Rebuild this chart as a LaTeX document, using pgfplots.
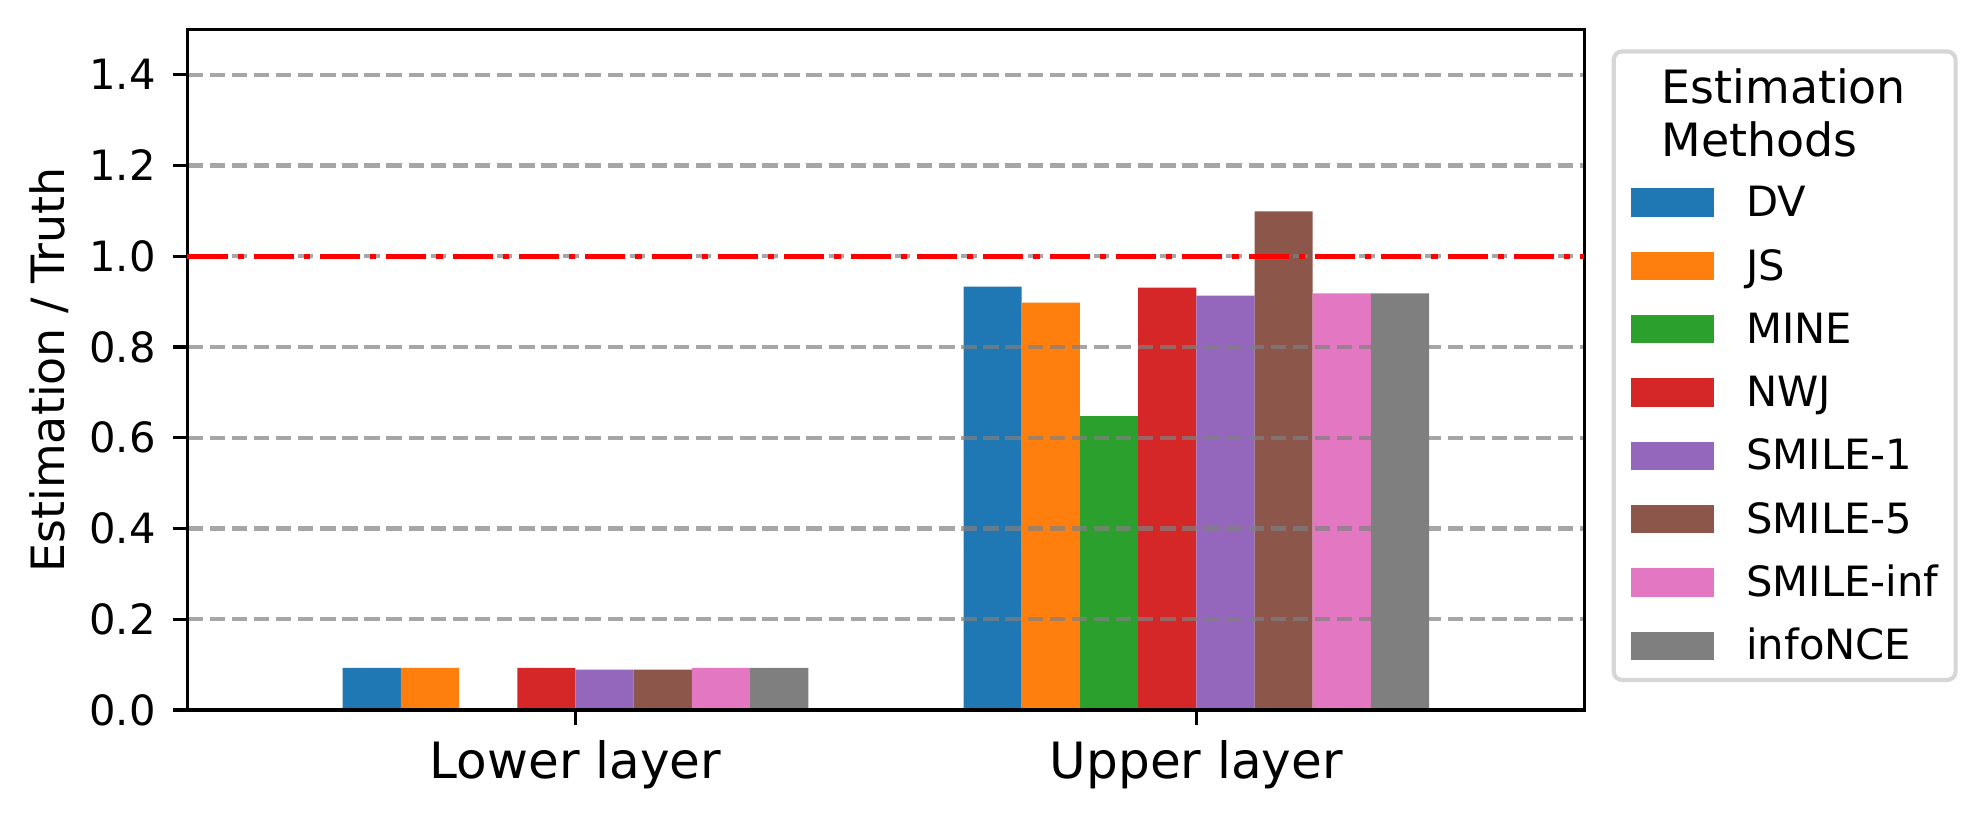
\documentclass[border=0pt]{standalone}
\usepackage{pgfplots}
\pgfplotsset{compat=1.18}
\usepackage{fontspec}
\setmainfont{DejaVu Sans}
\definecolor{c1}{HTML}{1F77B4}
\definecolor{c2}{HTML}{FF7F0E}
\definecolor{c3}{HTML}{2CA02C}
\definecolor{c4}{HTML}{D62728}
\definecolor{c5}{HTML}{9467BD}
\definecolor{c6}{HTML}{8C564B}
\definecolor{c7}{HTML}{E377C2}
\definecolor{c8}{HTML}{7F7F7F}
\newcommand\ls{\rule[-2.5pt]{0pt}{10.9pt}}
\begin{document}
\begin{tikzpicture}
\begin{axis}[
  at={(44.95pt,25.6pt)}, anchor=south west,
  scale only axis, width=334.9pt, height=163.2pt,
  xmin=-0.625, xmax=1.625, ymin=0, ymax=1.5,
  xtick={0,1}, xticklabels={Lower layer, Upper layer},
  ytick={0,0.2,0.4,0.6,0.8,1.0,1.2,1.4},
  /pgf/number format/assume math mode=true,
  /pgf/number format/fixed, /pgf/number format/fixed zerofill, /pgf/number format/precision=1,
  tick align=outside, major tick length=3.5pt,
  xtick pos=left, ytick pos=left,
  tick style={black, line width=0.8pt},
  axis line style={line width=0.8pt},
  x tick label style={font=\fontsize{12}{14}\selectfont, inner sep=0pt, anchor=base, yshift=-12.8pt},
  y tick label style={font=\fontsize{10}{12}\selectfont, inner sep=0pt, anchor=east, xshift=-3.9pt},
  ymajorgrids,
  grid style={gray, opacity=0.7, line width=1pt, dash pattern=on 3.7pt off 1.6pt},
  set layers, axis on top,
  ylabel={Estimation / Truth},
  ylabel style={at={(axis description cs:-0.08815,0.5)}, anchor=base, font=\fontsize{11}{13}\selectfont},
  legend image code/.code={\fill[#1, draw=none, sharp corners] (0pt,0pt) rectangle (19.9pt,6.8pt);},
  legend style={at={(1.01956,0.9706)}, anchor=north west, draw=black!16, line width=1pt,
    rounded corners=2pt, fill=white, inner xsep=4.1pt, inner ysep=3.9pt,
    row sep=4.28pt, column sep=7.8pt, font=\fontsize{10}{12}\selectfont,
    nodes={inner sep=0pt, text depth=}, cells={anchor=base west}},
]
\addlegendimage{empty legend}
\addlegendentry{\hspace*{-20.3pt}\fontsize{11}{12.4}\selectfont\vtop{\hbox{\rule{0pt}{8.68pt}Estimation}\nointerlineskip\hbox{\rule[-1.8pt]{0pt}{14.2pt}Methods}}}

% DV
\addplot[ybar, bar width=0.09375, bar shift=0pt, fill=c1, draw=none, forget plot]
  coordinates {(-0.328125,0.093) (0.671875,0.933)};
% JS
\addplot[ybar, bar width=0.09375, bar shift=0pt, fill=c2, draw=none, forget plot]
  coordinates {(-0.234375,0.093) (0.765625,0.898)};
% MINE
\addplot[ybar, bar width=0.09375, bar shift=0pt, fill=c3, draw=none, forget plot]
  coordinates {(0.859375,0.647)};
% NWJ
\addplot[ybar, bar width=0.09375, bar shift=0pt, fill=c4, draw=none, forget plot]
  coordinates {(-0.046875,0.093) (0.953125,0.931)};
% SMILE-1
\addplot[ybar, bar width=0.09375, bar shift=0pt, fill=c5, draw=none, forget plot]
  coordinates {(0.046875,0.089) (1.046875,0.913)};
% SMILE-5
\addplot[ybar, bar width=0.09375, bar shift=0pt, fill=c6, draw=none, forget plot]
  coordinates {(0.140625,0.089) (1.140625,1.099)};
% SMILE-inf
\addplot[ybar, bar width=0.09375, bar shift=0pt, fill=c7, draw=none, forget plot]
  coordinates {(0.234375,0.093) (1.234375,0.918)};
% infoNCE
\addplot[ybar, bar width=0.09375, bar shift=0pt, fill=c8, draw=none, forget plot]
  coordinates {(0.328125,0.093) (1.328125,0.918)};

% reference line
\addplot[red, line width=1.1pt, dash pattern=on 9.6pt off 2.4pt on 1.5pt off 2.4pt, forget plot, on layer=axis foreground]
  coordinates {(-0.625,1) (1.625,1)};

\addlegendimage{fill=c1}\addlegendentry{\ls DV}
\addlegendimage{fill=c2}\addlegendentry{\ls JS}
\addlegendimage{fill=c3}\addlegendentry{\ls MINE}
\addlegendimage{fill=c4}\addlegendentry{\ls NWJ}
\addlegendimage{fill=c5}\addlegendentry{\ls SMILE-1}
\addlegendimage{fill=c6}\addlegendentry{\ls SMILE-5}
\addlegendimage{fill=c7}\addlegendentry{\ls SMILE-inf}
\addlegendimage{fill=c8}\addlegendentry{\rule[-0.9pt]{0pt}{9.3pt}infoNCE}
\end{axis}
\pgfresetboundingbox
\path[use as bounding box] (0pt,0pt) rectangle (475.2pt,195.84pt);
\end{tikzpicture}
\end{document}
